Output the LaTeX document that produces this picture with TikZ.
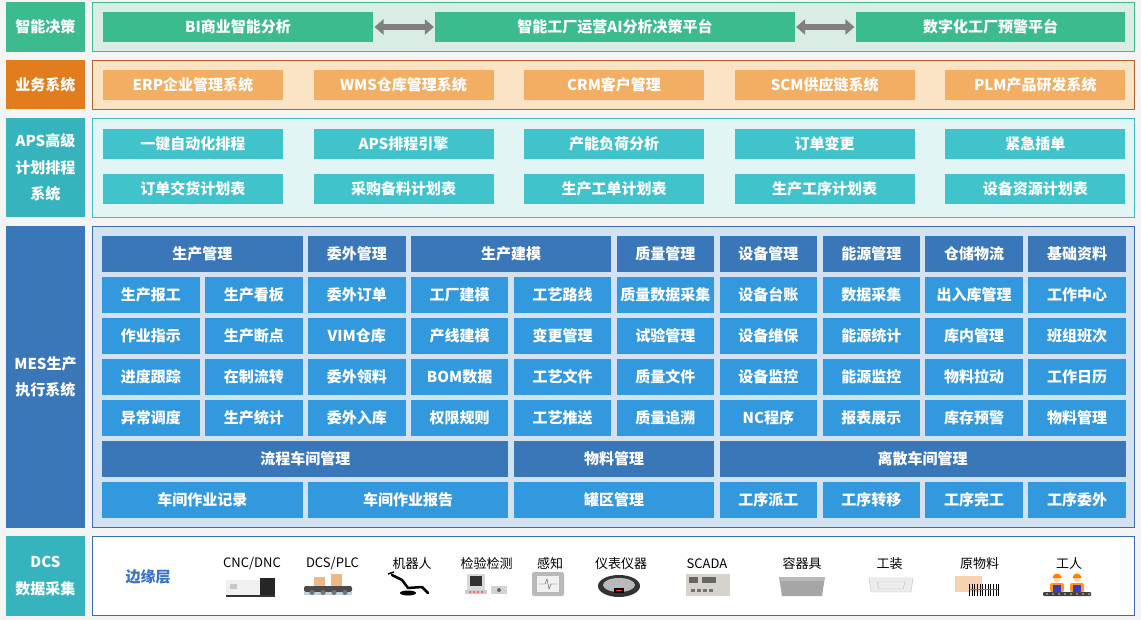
\documentclass[tikz,border=0pt]{standalone}
\usepackage{fontspec}
\setmainfont{Noto Sans CJK SC}
\usetikzlibrary{arrows.meta}

\definecolor{bgc}{HTML}{F4F4F4}
\definecolor{zngreen}{HTML}{3BBB8E}
\definecolor{znpanel}{HTML}{DAEDE5}
\definecolor{ywlab}{HTML}{E27D1E}
\definecolor{ywbox}{HTML}{F2AE62}
\definecolor{ywpanel}{HTML}{FBE3C6}
\definecolor{ywline}{HTML}{B4622B}
\definecolor{apslab}{HTML}{36B4BD}
\definecolor{apsbox}{HTML}{40C3CB}
\definecolor{apspanel}{HTML}{E3F4F4}
\definecolor{apsline}{HTML}{3EBDC6}
\definecolor{meslab}{HTML}{3A77B8}
\definecolor{meshead}{HTML}{3A77B9}
\definecolor{mescell}{HTML}{3399DF}
\definecolor{mespanel}{HTML}{D3E2F2}
\definecolor{mesline}{HTML}{3A6DAF}
\definecolor{edgeblue}{HTML}{3A73BF}
\definecolor{arrgray}{HTML}{808080}

\tikzset{x=1pt,y=-1pt,
    box/.style={inner sep=0pt,outer sep=0pt,text=white,align=center,
        font=\bfseries\fontsize{15}{26.5}\selectfont},
    lab/.style={box,minimum width=78.5pt,fill=#1},
    panel/.style={draw=#1,line width=1pt,inner sep=0pt,outer sep=0pt,minimum width=1042.3pt},
    wide/.style={box,minimum width=180pt,minimum height=30pt},
    head/.style={box,fill=meshead,minimum height=35.7pt},
    cell/.style={box,fill=mescell,minimum height=35.7pt},
    dbl/.style={draw=arrgray,line width=6pt,
        {Triangle[length=9pt,width=15pt]}-{Triangle[length=9pt,width=15pt]},
        shorten <=1.4pt,shorten >=1.4pt},
    dev/.style={inner sep=0pt,font=\fontsize{13}{13}\selectfont},
    }

% one MES cell: name, first column, span, row, style, text
\newcommand\mesbox[6]{%
  \pgfmathsetmacro\meswd{97.5+102.9*(#3-1)}%
  \pgfmathsetmacro\mesx{102.2+102.9*#2+\meswd/2}%
  \pgfmathsetmacro\mesy{253.85+41*#4}%
  \node[#5,minimum width=\meswd pt] (#1) at (\mesx,\mesy) {#6};}

\begin{document}
\begin{tikzpicture}
\fill[bgc] (0,0) rectangle (1141,620);

% 智能决策
\node[lab=zngreen,minimum height=49.2pt] (lab1) at (45.45,27.1) {智能决策};
\node[panel=zngreen,fill=znpanel,minimum height=49.2pt] (pan1) at (613.55,27.1) {};
\node[wide,fill=zngreen,minimum width=270.2pt] (bi) at (238,27) {BI商业智能分析};
\node[wide,fill=zngreen,minimum width=359.4pt] (ai) at (615,27) {智能工厂运营AI分析决策平台};
\node[wide,fill=zngreen,minimum width=269.5pt] (yj) at (990.55,27) {数字化工厂预警平台};
\draw[dbl] (bi) -- (ai);
\draw[dbl] (ai) -- (yj);

% 业务系统
\node[lab=ywlab,minimum height=49.2pt] (lab2) at (45.45,84.9) {业务系统};
\node[panel=ywline,fill=ywpanel,minimum height=49.2pt] (pan2) at (613.55,84.9) {};
\foreach \t [count=\i from 0] in {ERP企业管理系统,WMS仓库管理系统,CRM客户管理,SCM供应链系统,PLM产品研发系统}
  \node[wide,fill=ywbox] (yw\i) at ({192.9+210.6*\i},85) {\t};

% APS
\node[lab=apslab,minimum height=99pt] (lab3) at (45.45,167.7) {APS高级\\计划排程\\系统};
\node[panel=apsline,fill=apspanel,minimum height=99pt] (pan3) at (613.55,167.7) {};
\foreach \t [count=\i from 0] in {一键自动化排程,APS排程引擎,产能负荷分析,订单变更,紧急插单}
  \node[wide,fill=apsbox,minimum height=29.7pt] (apsa\i) at ({192.9+210.6*\i},143.85) {\t};
\foreach \t [count=\i from 0] in {订单交货计划表,采购备料计划表,生产工单计划表,生产工序计划表,设备资源计划表}
  \node[wide,fill=apsbox,minimum height=29.7pt] (apsb\i) at ({192.9+210.6*\i},188.85) {\t};

% MES
\node[lab=meslab,minimum height=301.3pt] (lab4) at (45.45,376.85) {MES生产\\执行系统};
\node[panel=mesline,fill=mespanel,minimum height=301.3pt] (pan4) at (613.55,376.85) {};
\mesbox{h1}{0}{2}{0}{head}{生产管理}
\mesbox{h2}{2}{1}{0}{head}{委外管理}
\mesbox{h3}{3}{2}{0}{head}{生产建模}
\foreach \t [count=\i from 5] in {质量管理,设备管理,能源管理,仓储物流,基础资料}
  {\mesbox{h\i}{\i}{1}{0}{head}{\t}}
\foreach \r/\lst in {1/{生产报工,生产看板,委外订单,工厂建模,工艺路线,质量数据采集,设备台账,数据采集,出入库管理,工作中心},
    2/{作业指示,生产断点,VIM仓库,产线建模,变更管理,试验管理,设备维保,能源统计,库内管理,班组班次},
    3/{进度跟踪,在制流转,委外领料,BOM数据,工艺文件,质量文件,设备监控,能源监控,物料拉动,工作日历},
    4/{异常调度,生产统计,委外入库,权限规则,工艺推送,质量追溯,NC程序,报表展示,库存预警,物料管理}}
  {\foreach \t [count=\i from 0] in \lst
    {\mesbox{c\r-\i}{\i}{1}{\r}{cell}{\t}}}
\mesbox{lc}{0}{4}{5}{head}{流程车间管理}
\mesbox{wl}{4}{2}{5}{head}{物料管理}
\mesbox{ls}{6}{4}{5}{head}{离散车间管理}
\mesbox{jl}{0}{2}{6}{cell}{车间作业记录}
\mesbox{bg}{2}{2}{6}{cell}{车间作业报告}
\mesbox{gq}{4}{2}{6}{cell}{罐区管理}
\foreach \t [count=\i from 6] in {工序派工,工序转移,工序完工,工序委外}
  {\mesbox{gx\i}{\i}{1}{6}{cell}{\t}}

% DCS
\node[lab=apslab,minimum height=79.2pt] (lab5) at (45.45,575.9) {DCS\\数据采集};
\node[panel=mesline,fill=white,minimum height=79.2pt] (pan5) at (613.55,575.9) {};
\node[font=\bfseries\fontsize{15}{15}\selectfont,text=edgeblue] (edge) at (148,577) {边缘层};
\node[dev] (d1) at (252,564) {CNC/DNC};
\node[dev] (d2) at (332.5,564) {DCS/PLC};
\node[dev] (d3) at (412,564) {机器人};
\node[dev] (d4) at (486.5,564) {检验检测};
\node[dev] (d5) at (550,564) {感知};
\node[dev] (d6) at (621,564) {仪表仪器};
\node[dev] (d7) at (707,564) {SCADA};
\node[dev] (d8) at (802,564) {容器具};
\node[dev] (d9) at (889.7,564) {工装};
\node[dev] (d10) at (979.5,564) {原物料};
\node[dev] (d11) at (1069,564) {工人};

% icons
\begin{scope}[shift={(250,585.5)}]
  \fill[gray!12] (-24,-6) rectangle (10,9);
  \fill[gray!45] (-20,-2) rectangle (-13,3);
  \fill[black!85] (10,-8) rectangle (25,10);
  \fill[black!80] (-24,9) rectangle (25,11);
\end{scope}
\begin{scope}[shift={(328,584)}]
  \fill[black!70,rounded corners=2pt] (-24,2) rectangle (24,8);
  \fill[cyan!25!gray!45] (-24,8) rectangle (24,11);
  \foreach \u in {-16,-5,6,17} \fill[black!55] (\u,8.5) circle (2.5pt);
  \fill[brown!55!orange!55] (-14,-7) rectangle (-3,2);
  \fill[brown!55!orange!55] (3,-10) rectangle (14,2);
\end{scope}
\begin{scope}[shift={(410,584)}]
  \draw[line width=2.5pt,line cap=round,line join=round] (-18,-9) -- (-8,-4) -- (-2,4) -- (12,3) -- (18,9);
  \fill (-2,9) ellipse (8pt and 2.5pt);
  \draw[line width=1.5pt] (-22,-10) -- (-16,-12);
\end{scope}
\begin{scope}[shift={(487,584)}]
  \fill[gray!30] (-20,-10) rectangle (-2,6);
  \fill[black!80] (-17,-8) rectangle (-5,2);
  \fill[gray!40] (-22,6) rectangle (0,10);
  \foreach \u in {-17,-13,-9,-5} \fill[red!80] (\u,8) circle (1pt);
  \fill[gray!35] (4,2) rectangle (20,10);
  \fill[black!60] (12,6) circle (2pt);
\end{scope}
\begin{scope}[shift={(548,584)}]
  \fill[gray!55,rounded corners=2pt] (-16,-12) rectangle (16,12);
  \fill[gray!12] (-11,-8) rectangle (11,8);
  \draw[black!70] (-9,0) -- (-3,0) -- (-1,-5) -- (1,5) -- (3,0) -- (9,0);
\end{scope}
\begin{scope}[shift={(619,586)}]
  \fill[black!80] (0,0) ellipse (21pt and 11pt);
  \fill[gray!55] (0,-1) ellipse (16pt and 7pt);
  \fill[black] (-5,2) rectangle (5,7);
  \draw[red!80,line width=1pt] (-3,4.5) -- (3,4.5);
\end{scope}
\begin{scope}[shift={(708,585)}]
  \fill[brown!25!gray!35] (-22,-11) rectangle (22,11);
  \fill[black!60] (-19,-8) rectangle (-10,-2);
  \fill[black!60] (-6,-8) rectangle (8,-2);
  \foreach \u in {-17,-11,-5,1} \fill[black!55] (\u,4) rectangle (\u+4,7);
\end{scope}
\begin{scope}[shift={(802,586)}]
  \fill[gray!70] (-23,-9) -- (23,-9) -- (20,10) -- (-20,10) -- cycle;
  \fill[gray!55] (-23,-9) -- (23,-9) -- (21,-5) -- (-21,-5) -- cycle;
\end{scope}
\begin{scope}[shift={(891,584)}]
  \filldraw[fill=gray!15,draw=gray!50] (-22,-6) -- (22,-6) -- (20,8) -- (-20,8) -- cycle;
  \draw[gray!50] (-14,-2) -- (14,-2) -- (12,5) -- (-12,5) -- cycle;
\end{scope}
\begin{scope}[shift={(977,586)}]
  \fill[brown!40!orange!35] (-22,-10) rectangle (5,6);
  \foreach \u in {-8,-5,-3,0,3,5,8,11,13,16,19,21} \draw[line width=1pt] (\u,-2) -- (\u,10);
  \draw[red!80] (-8,3) -- (21,3);
\end{scope}
\begin{scope}[shift={(1067,585)}]
  \fill[black!75,rounded corners=1pt] (-24,7) rectangle (24,11);
  \foreach \u in {-20,-14,...,22} \fill[gray!40] (\u,9) circle (0.8pt);
  \foreach \u in {-10,10} {
    \fill[orange!85,rounded corners=2pt] (\u-7,-2) rectangle (\u+7,7);
    \fill[blue!55!gray] (\u-4,0) rectangle (\u+4,7);
    \fill[orange!30] (\u,-6) circle (3.5pt);
    \fill[orange] (\u-4.5,-7) arc[start angle=180,end angle=0,radius=4.5pt] -- cycle;
  }
\end{scope}
\end{tikzpicture}
\end{document}
